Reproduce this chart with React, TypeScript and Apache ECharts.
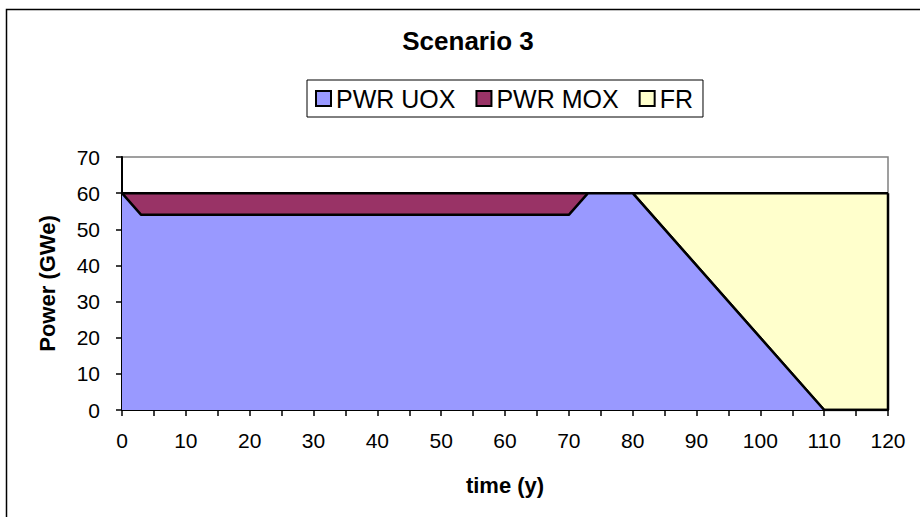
import React, { useEffect, useRef } from "react";
import * as echarts from "echarts";

// Years at which the installed capacity changes (y)
const years = [0, 3, 70, 73, 80, 110, 120];
// Installed power per reactor type (GWe)
const pwrUox = [60, 54, 54, 60, 60, 0, 0];
const pwrMox = [0, 6, 6, 0, 0, 0, 0];
const fr = [0, 0, 0, 0, 0, 60, 60];

const seriesNames = ["PWR UOX", "PWR MOX", "FR"];
const yTicks = { min: 0, max: 70, step: 10 };
const xTicks = { min: 0, max: 120, step: 5, labelStep: 10 };

const FONT = "Liberation Sans, Arial, sans-serif";

export default function App() {
  const ref = useRef<HTMLDivElement>(null);

  useEffect(() => {
    if (!ref.current) return;
    document.body.style.margin = "0";
    const chart = echarts.init(ref.current, null, { renderer: "svg" });

    // Cumulative tops: each layer is filled down to zero and drawn under the next one
    const uoxTop = pwrUox.slice();
    const moxTop = pwrUox.map((v, i) => v + pwrMox[i]);
    const frTop = moxTop.map((v, i) => v + fr[i]);
    const pairs = (vals: number[]) => years.map((x, i) => [x, vals[i]]);
    const last = years.length - 1;

    const layer = (name: string, vals: number[], color: string, z: number) => ({
      name,
      type: "line",
      data: pairs(vals),
      symbol: "none",
      lineStyle: { color: "#000", width: 2.5 },
      areaStyle: { color, opacity: 1 },
      itemStyle: { color },
      z,
    });

    chart.setOption({
      animation: false,
      backgroundColor: "#fff",
      title: {
        text: "Scenario 3",
        left: 468,
        textAlign: "center",
        top: 28,
        padding: 0,
        textStyle: { fontFamily: FONT, fontSize: 26, fontWeight: "bold", color: "#000" },
      },
      legend: {
        data: seriesNames,
        left: 307,
        top: 80,
        padding: [6, 10, 6, 8],
        borderColor: "#000",
        borderWidth: 1,
        itemWidth: 15,
        itemHeight: 15,
        itemGap: 20,
        icon: "rect",
        itemStyle: { borderColor: "#000", borderWidth: 2 },
        textStyle: { fontFamily: FONT, fontSize: 25, color: "#000" },
      },
      grid: {
        left: 122,
        right: 32,
        top: 157,
        bottom: 107,
        show: true,
        borderColor: "#808080",
        borderWidth: 1.5,
        backgroundColor: "transparent",
      },
      xAxis: {
        type: "value",
        min: xTicks.min,
        max: xTicks.max,
        interval: xTicks.step,
        name: "time (y)",
        nameLocation: "middle",
        nameGap: 64,
        nameTextStyle: { fontFamily: FONT, fontSize: 22, fontWeight: "bold", color: "#000" },
        axisLine: { show: true, lineStyle: { color: "#000", width: 2 } },
        axisTick: { show: true, length: 6, lineStyle: { color: "#000", width: 1.5 } },
        axisLabel: {
          fontFamily: FONT,
          fontSize: 21,
          color: "#000",
          margin: 20,
          formatter: (v: number) => (v % xTicks.labelStep === 0 ? String(v) : ""),
        },
        splitLine: { show: false },
      },
      yAxis: {
        type: "value",
        min: yTicks.min,
        max: yTicks.max,
        interval: yTicks.step,
        name: "Power (GWe)",
        nameLocation: "middle",
        nameGap: 64,
        nameTextStyle: { fontFamily: FONT, fontSize: 22, fontWeight: "bold", color: "#000" },
        axisLine: { show: true, lineStyle: { color: "#000", width: 2 } },
        axisTick: { show: true, length: 6, lineStyle: { color: "#000", width: 1.5 } },
        axisLabel: { fontFamily: FONT, fontSize: 21, color: "#000", margin: 22 },
        splitLine: { show: false },
      },
      graphic: [
        {
          type: "polyline",
          shape: { points: [[6.5, 517], [6.5, 9.5], [920, 9.5]] },
          style: { stroke: "#000", lineWidth: 1.5, fill: "none" },
          silent: true,
        },
      ],
      series: [
        layer(seriesNames[2], frTop, "#FFFFCC", 2),
        layer(seriesNames[1], moxTop, "#993366", 3),
        layer(seriesNames[0], uoxTop, "#9999FF", 4),
        {
          name: "edge",
          type: "line",
          data: [
            [years[last], 0],
            [years[last], frTop[last]],
          ],
          symbol: "none",
          lineStyle: { color: "#000", width: 2.5 },
          z: 5,
          silent: true,
        },
      ],
    });

    return () => chart.dispose();
  }, []);

  return <div ref={ref} style={{ width: 920, height: 517 }} />;
}
